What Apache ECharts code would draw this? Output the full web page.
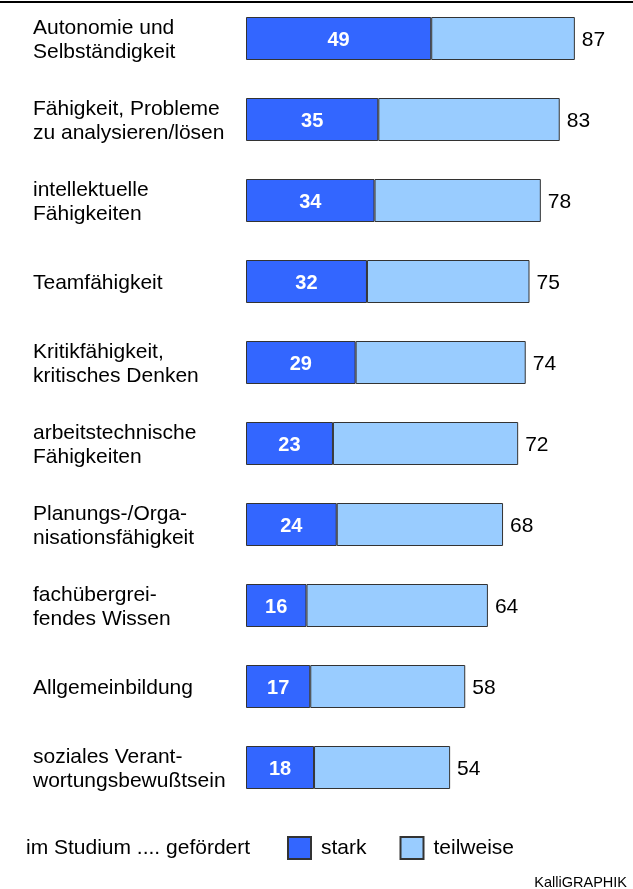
<!DOCTYPE html>
<html>
<head>
<meta charset="utf-8">
<script src="https://cdn.jsdelivr.net/npm/echarts@6/dist/echarts.min.js"></script>
<style>
	html, body { margin: 0; padding: 0; background: #fff; }
	#main { width: 633px; height: 889px; }
</style>
</head>
<body>
<div id="main"></div>
<script>
	var categories = [
		'Autonomie und\nSelbständigkeit',
		'Fähigkeit, Probleme\nzu analysieren/lösen',
		'intellektuelle\nFähigkeiten',
		'Teamfähigkeit',
		'Kritikfähigkeit,\nkritisches Denken',
		'arbeitstechnische\nFähigkeiten',
		'Planungs-/Orga-\nnisationsfähigkeit',
		'fachübergrei-\nfendes Wissen',
		'Allgemeinbildung',
		'soziales Verant-\nwortungsbewußtsein'
	];
	var stark = [49, 35, 34, 32, 29, 23, 24, 16, 17, 18];
	var total = [87, 83, 78, 75, 74, 72, 68, 64, 58, 54];
	var teilweise = total.map(function(t, i) {
		return t - stark[i];
	});

	var font = 'Liberation Sans, Arial, sans-serif';
	var chart = echarts.init(document.getElementById('main'));
	var option = {
		backgroundColor: '#fff',
		animation: false,
		grid: {
			left: 246,
			width: 378,
			top: -2,
			height: 810,
			containLabel: false,
			outerBoundsMode: 'none'
		},
		xAxis: {
			type: 'value',
			min: 0,
			max: 100,
			show: false
		},
		yAxis: {
			type: 'category',
			inverse: true,
			data: categories,
			axisLine: { show: false },
			axisTick: { show: false },
			splitLine: { show: false },
			axisLabel: {
				align: 'left',
				margin: 213,
				color: '#000',
				fontSize: 21,
				lineHeight: 24,
				fontFamily: font,
				// kleine Leerzeile oben schiebt den Text etwas nach unten
				formatter: function(v) {
					return '{s| }\n' + v;
				},
				rich: {
					s: { fontSize: 1, lineHeight: 3 }
				}
			}
		},
		legend: {
			left: 282,
			top: 831,
			itemWidth: 23,
			itemHeight: 22,
			itemGap: 33,
			textStyle: {
				color: '#000',
				fontSize: 21,
				fontFamily: font,
				padding: [0, 0, 0, 5]
			},
			data: [{ name: 'stark', icon: 'rect' }, { name: 'teilweise', icon: 'rect' }]
		},
		graphic: [{
			type: 'line',
			shape: { x1: 0, y1: 2, x2: 633, y2: 2 },
			style: { stroke: '#000', lineWidth: 2 }
		}, {
			type: 'text',
			left: 26,
			top: 838,
			style: {
				text: 'im Studium .... gefördert',
				fill: '#000',
				font: '21px ' + font
			}
		}, {
			type: 'text',
			right: 6,
			top: 875,
			style: {
				text: 'KalliGRAPHIK',
				fill: '#000',
				font: '14.5px ' + font
			}
		}],
		series: [{
			name: 'stark',
			type: 'bar',
			stack: 'a',
			barWidth: 43,
			data: stark,
			itemStyle: {
				color: '#3366ff',
				borderColor: '#333',
				borderWidth: 1
			},
			label: {
				show: true,
				position: 'inside',
				offset: [0, 2],
				color: '#fff',
				fontWeight: 'bold',
				fontSize: 20,
				fontFamily: font
			}
		}, {
			name: 'teilweise',
			type: 'bar',
			stack: 'a',
			barWidth: 43,
			data: teilweise,
			itemStyle: {
				color: '#99ccff',
				borderColor: '#333',
				borderWidth: 1
			},
			label: {
				show: true,
				position: 'right',
				distance: 7,
				offset: [0, 2],
				color: '#000',
				fontSize: 21,
				fontFamily: font,
				formatter: function(p) {
					return total[p.dataIndex];
				}
			}
		}]
	};
	chart.setOption(option);
</script>
</body>
</html>
